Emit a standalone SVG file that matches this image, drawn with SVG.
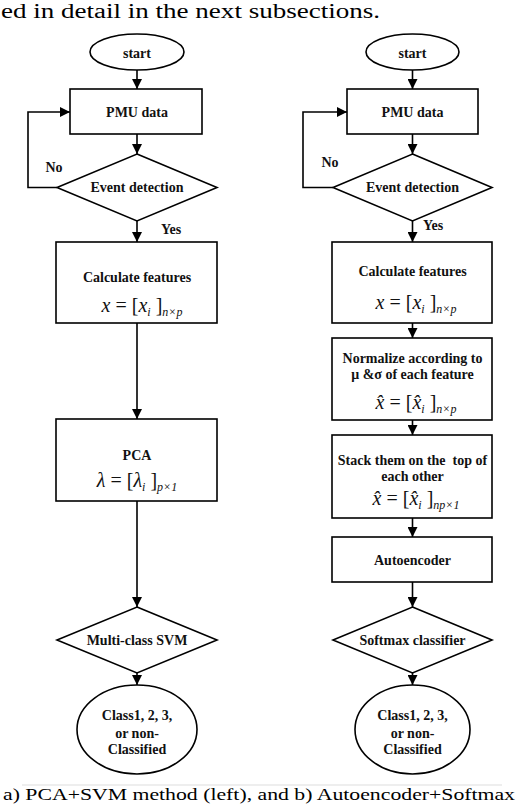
<svg xmlns="http://www.w3.org/2000/svg" width="520" height="804" viewBox="0 0 520 804">
<defs>
<style>
.sh{fill:#fff;stroke:#000;stroke-width:1.6}
.ln{fill:none;stroke:#000;stroke-width:1.6}
.t{font-family:"Liberation Serif","Times New Roman",serif;font-weight:bold;font-size:14px;fill:#111;text-anchor:middle}
.m{font-family:"Liberation Serif","Times New Roman",serif;font-size:20px;fill:#111;text-anchor:middle}
.i{font-style:italic}
.s{font-size:12px;font-style:italic}
.pg{font-family:"Liberation Serif","Times New Roman",serif;font-size:20px;fill:#000}
</style>
<marker id="ah" viewBox="0 0 10 10" refX="10" refY="5" markerWidth="10" markerHeight="10" markerUnits="userSpaceOnUse" orient="auto">
<path d="M0,0 L10,5 L0,10 Z" fill="#000"/>
</marker>
</defs>
<rect width="520" height="804" fill="#fff"/>
<text class="pg" x="1" y="18" textLength="379" lengthAdjust="spacingAndGlyphs">ed in detail in the next subsections.</text>
<line x1="22" y1="785" x2="502" y2="785" stroke="#ddd" stroke-width="1"/>
<text class="pg" x="3" y="800" style="font-size:16px" textLength="512" lengthAdjust="spacingAndGlyphs">a) PCA+SVM method (left), and b) Autoencoder+Softmax</text>

<g id="connectors">
<line class="ln" x1="137" y1="70" x2="137" y2="89" marker-end="url(#ah)"/>
<line class="ln" x1="137" y1="134" x2="137" y2="154" marker-end="url(#ah)"/>
<polyline class="ln" points="57,187.5 28,187.5 28,112 70,112" marker-end="url(#ah)"/>
<line class="ln" x1="137" y1="221" x2="137" y2="242" marker-end="url(#ah)"/>
<line class="ln" x1="137" y1="323" x2="137" y2="419" marker-end="url(#ah)"/>
<line class="ln" x1="137" y1="501" x2="137" y2="607" marker-end="url(#ah)"/>
<line class="ln" x1="137" y1="673" x2="137" y2="685" marker-end="url(#ah)"/>
<line class="ln" x1="412.5" y1="70" x2="412.5" y2="89" marker-end="url(#ah)"/>
<line class="ln" x1="412.5" y1="134" x2="412.5" y2="154" marker-end="url(#ah)"/>
<polyline class="ln" points="333,187.5 303,187.5 303,112 347,112" marker-end="url(#ah)"/>
<line class="ln" x1="412.5" y1="221" x2="412.5" y2="242" marker-end="url(#ah)"/>
<line class="ln" x1="412.5" y1="323" x2="412.5" y2="338" marker-end="url(#ah)"/>
<line class="ln" x1="412.5" y1="420" x2="412.5" y2="435" marker-end="url(#ah)"/>
<line class="ln" x1="412.5" y1="518" x2="412.5" y2="537" marker-end="url(#ah)"/>
<line class="ln" x1="412.5" y1="582" x2="412.5" y2="607" marker-end="url(#ah)"/>
<line class="ln" x1="412.5" y1="673" x2="412.5" y2="685" marker-end="url(#ah)"/>
<text class="t" x="54" y="172">No</text>
<text class="t" x="171" y="234">Yes</text>
<text class="t" x="330" y="167">No</text>
<text class="t" x="433" y="230">Yes</text>
</g>

<g id="L_start"><ellipse class="sh" cx="137" cy="52" rx="47" ry="18"/><text class="t" x="137" y="58">start</text></g>
<g id="L_pmu"><rect class="sh" x="70" y="89" width="132" height="45"/><text class="t" x="137" y="117">PMU data</text></g>
<g id="L_event"><polygon class="sh" points="137,154 217,187.5 137,221 57,187.5"/><text class="t" x="137" y="192">Event detection</text></g>
<g id="L_calc"><rect class="sh" x="56" y="242" width="161" height="81"/><text class="t" x="137" y="282">Calculate features</text>
<text class="m" x="142" y="312"><tspan class="i">x</tspan> = [<tspan class="i">x</tspan><tspan class="s" dy="4">i</tspan><tspan dy="-4"> ]</tspan><tspan class="s" dy="4">n×p</tspan></text></g>
<g id="L_pca"><rect class="sh" x="56" y="419" width="161" height="82"/><text class="t" x="137" y="460">PCA</text>
<text class="m" x="137" y="487"><tspan class="i">λ</tspan> = [<tspan class="i">λ</tspan><tspan class="s" dy="4">i</tspan><tspan dy="-4"> ]</tspan><tspan class="s" dy="4">p×1</tspan></text></g>
<g id="L_svm"><polygon class="sh" points="137,607 217,640 137,673 57,640"/><text class="t" x="137" y="645">Multi-class SVM</text></g>
<g id="L_class"><ellipse class="sh" cx="137" cy="729.5" rx="60" ry="44.5"/>
<text class="t" x="137" y="720">Class1, 2, 3,</text><text class="t" x="137" y="738">or non-</text><text class="t" x="137" y="754">Classified</text></g>

<g id="R_start"><ellipse class="sh" cx="412.5" cy="52" rx="46.5" ry="18"/><text class="t" x="412.5" y="58">start</text></g>
<g id="R_pmu"><rect class="sh" x="347" y="89" width="131" height="45"/><text class="t" x="412.5" y="117">PMU data</text></g>
<g id="R_event"><polygon class="sh" points="412.5,154 492,187.5 412.5,221 333,187.5"/><text class="t" x="412.5" y="192">Event detection</text></g>
<g id="R_calc"><rect class="sh" x="332" y="242" width="160" height="81"/><text class="t" x="412.5" y="276">Calculate features</text>
<text class="m" x="416" y="309"><tspan class="i">x</tspan> = [<tspan class="i">x</tspan><tspan class="s" dy="4">i</tspan><tspan dy="-4"> ]</tspan><tspan class="s" dy="4">n×p</tspan></text></g>
<g id="R_norm"><rect class="sh" x="332" y="338" width="160" height="82"/><text class="t" x="412.5" y="363">Normalize according to</text><text class="t" x="412.5" y="379">μ &amp;σ of each feature</text>
<text class="m" x="416" y="409"><tspan class="i">x̂</tspan> = [<tspan class="i">x̂</tspan><tspan class="s" dy="4">i</tspan><tspan dy="-4"> ]</tspan><tspan class="s" dy="4">n×p</tspan></text></g>
<g id="R_stack"><rect class="sh" x="332" y="435" width="160" height="83"/><text class="t" x="412.5" y="465" xml:space="preserve">Stack them on the  top of</text><text class="t" x="412.5" y="481">each other</text>
<text class="m" x="416" y="505"><tspan class="i">x̂</tspan> = [<tspan class="i">x̂</tspan><tspan class="s" dy="4">i</tspan><tspan dy="-4"> ]</tspan><tspan class="s" dy="4">np×1</tspan></text></g>
<g id="R_auto"><rect class="sh" x="332" y="537" width="160" height="45"/><text class="t" x="412.5" y="565">Autoencoder</text></g>
<g id="R_soft"><polygon class="sh" points="412.5,607 492,640 412.5,673 333,640"/><text class="t" x="412.5" y="645">Softmax classifier</text></g>
<g id="R_class"><ellipse class="sh" cx="412.5" cy="729.5" rx="57.5" ry="44.5"/>
<text class="t" x="412.5" y="720">Class1, 2, 3,</text><text class="t" x="412.5" y="738">or non-</text><text class="t" x="412.5" y="754">Classified</text></g>
</svg>
